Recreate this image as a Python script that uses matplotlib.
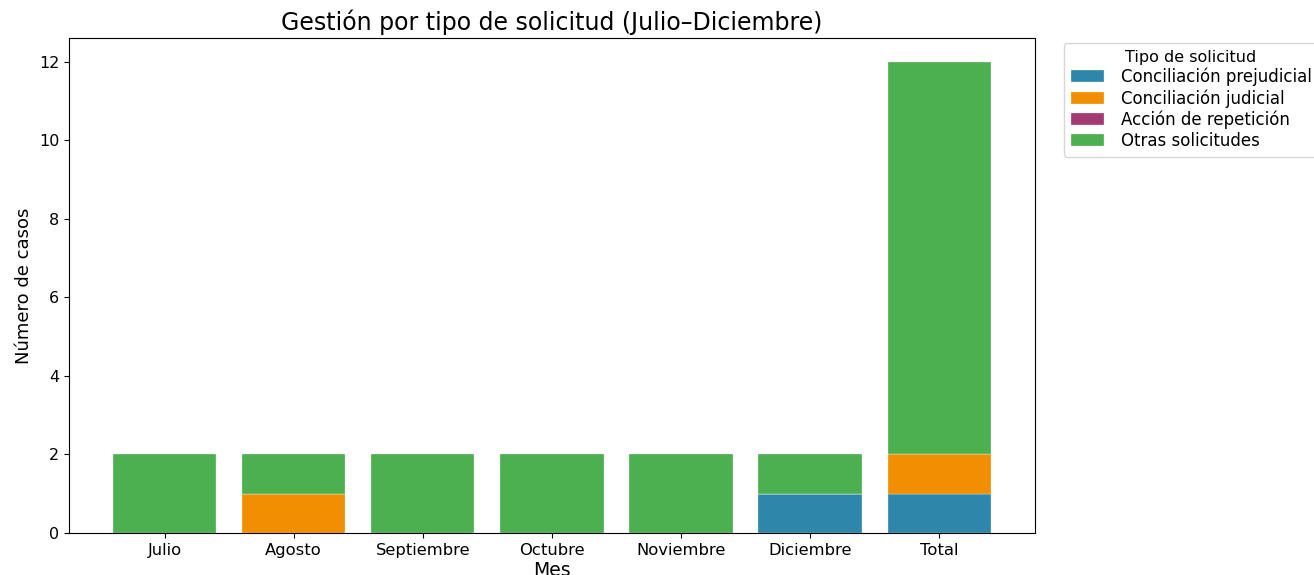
import matplotlib
matplotlib.use('Agg')
import matplotlib.pyplot as plt
import numpy as np

meses = ['Julio', 'Agosto', 'Septiembre', 'Octubre', 'Noviembre', 'Diciembre', 'Total']
tipos = ['Conciliación prejudicial', 'Conciliación judicial', 'Acción de repetición', 'Otras solicitudes']
prejudicial = [0, 0, 0, 0, 0, 1, 1]
judicial = [0, 1, 0, 0, 0, 0, 1]
repeticion = [0, 0, 0, 0, 0, 0, 0]
otras = [2, 1, 2, 2, 2, 1, 10]
colores = ['#2E86AB', '#F18F01', '#A23B72', '#4CAF50']


def main():
    fig = plt.figure(figsize=(13.14, 5.75), dpi=100)
    ax = fig.add_axes([0.0525, 0.073, 0.735, 0.861])

    x = np.arange(len(meses))
    bottom = np.zeros(len(meses))
    for nombre, valores, color in zip(tipos, [prejudicial, judicial, repeticion, otras], colores):
        ax.bar(x, valores, 0.8, bottom=bottom, label=nombre, color=color,
               edgecolor='white', linewidth=0.2)
        bottom += np.array(valores)

    ax.set_xticks(x)
    ax.set_xticklabels(meses, fontsize=11.8)
    ax.tick_params(axis='y', labelsize=11.5)
    ax.set_yticks(range(0, 13, 2))
    ax.set_xlabel('Mes', fontsize=13.5, labelpad=2)
    ax.set_ylabel('Número de casos', fontsize=13)
    ax.set_title('Gestión por tipo de solicitud (Julio–Diciembre)', fontsize=17, pad=6)
    ax.legend(title='Tipo de solicitud', bbox_to_anchor=(1.025, 1.0), loc='upper left',
              fontsize=12, title_fontsize=11.5, labelspacing=0.18, borderaxespad=0.3,
              handletextpad=1.0)

    fig.savefig('out.png', dpi=100)


if __name__ == '__main__':
    main()
